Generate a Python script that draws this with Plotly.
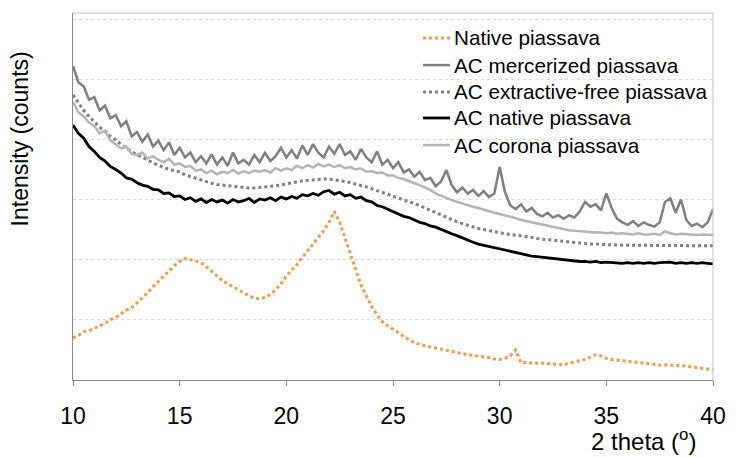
import numpy as np
import plotly.graph_objects as go

# 2-theta positions (degrees), step 0.25
two_theta = [round(10 + 0.25 * i, 2) for i in range(121)]

native = [
    0.70, 0.74, 0.80, 0.82, 0.86, 0.90, 0.94, 1.00, 1.04, 1.10, 1.16, 1.20,
    1.28, 1.36, 1.45, 1.55, 1.64, 1.73, 1.82, 1.90, 1.97, 2.02, 2.00, 1.98,
    1.95, 1.88, 1.81, 1.73, 1.65, 1.60, 1.54, 1.50, 1.45, 1.40, 1.36, 1.35,
    1.37, 1.42, 1.50, 1.60, 1.73, 1.82, 1.92, 2.04, 2.15, 2.25, 2.36, 2.48,
    2.62, 2.80, 2.62, 2.36, 2.10, 1.84, 1.58, 1.40, 1.22, 1.08, 0.97, 0.90,
    0.84, 0.78, 0.72, 0.67, 0.62, 0.59, 0.57, 0.55, 0.53, 0.51, 0.49, 0.47,
    0.45, 0.44, 0.42, 0.41, 0.40, 0.38, 0.37, 0.35, 0.34, 0.36, 0.40, 0.50,
    0.29, 0.29, 0.28, 0.28, 0.28, 0.27, 0.26, 0.26, 0.25, 0.28, 0.30, 0.32,
    0.34, 0.38, 0.42, 0.40, 0.36, 0.34, 0.33, 0.32, 0.31, 0.29, 0.28, 0.27,
    0.26, 0.25, 0.25, 0.25, 0.25, 0.24, 0.24, 0.23, 0.22, 0.21, 0.20, 0.19,
    0.17]

ac_mercerized = [
    5.22, 4.95, 4.88, 4.66, 4.70, 4.48, 4.56, 4.35, 4.40, 4.22, 4.30, 4.05,
    4.12, 3.96, 4.08, 3.88, 3.98, 3.82, 3.95, 3.74, 3.86, 3.70, 3.78, 3.62,
    3.72, 3.60, 3.75, 3.58, 3.70, 3.56, 3.78, 3.60, 3.66, 3.58, 3.74, 3.62,
    3.78, 3.64, 3.72, 3.86, 3.70, 3.82, 3.68, 3.90, 3.74, 3.92, 3.78, 3.70,
    3.88, 3.76, 3.92, 3.74, 3.80, 3.66, 3.84, 3.70, 3.62, 3.80, 3.58, 3.66,
    3.52, 3.62, 3.45, 3.50, 3.38, 3.46, 3.32, 3.36, 3.22, 3.30, 3.49, 3.24,
    3.12, 3.20, 3.10, 3.16, 3.06, 3.14, 3.04, 3.10, 3.54, 3.12, 2.90, 2.84,
    2.92, 2.80, 2.86, 2.76, 2.72, 2.78, 2.70, 2.74, 2.68, 2.74, 2.70, 2.80,
    2.96, 2.88, 2.92, 2.82, 3.10, 2.86, 2.68, 2.62, 2.58, 2.64, 2.56, 2.62,
    2.58, 2.55, 2.62, 2.96, 3.02, 2.78, 3.00, 2.66, 2.56, 2.60, 2.54, 2.62,
    2.84]

ac_extractive_free = [
    4.74, 4.60, 4.48, 4.38, 4.29, 4.20, 4.14, 4.05, 3.99, 3.92, 3.85, 3.80,
    3.74, 3.70, 3.65, 3.61, 3.57, 3.53, 3.50, 3.48, 3.46, 3.41, 3.38, 3.35,
    3.32, 3.29, 3.27, 3.25, 3.24, 3.22, 3.21, 3.20, 3.20, 3.19, 3.19, 3.20,
    3.20, 3.21, 3.23, 3.24, 3.26, 3.28, 3.29, 3.31, 3.32, 3.33, 3.34, 3.34,
    3.34, 3.33, 3.31, 3.30, 3.28, 3.26, 3.23, 3.21, 3.18, 3.15, 3.12, 3.09,
    3.06, 3.03, 3.00, 2.97, 2.94, 2.90, 2.86, 2.82, 2.78, 2.75, 2.70, 2.66,
    2.63, 2.60, 2.57, 2.55, 2.52, 2.50, 2.48, 2.46, 2.45, 2.43, 2.42, 2.41,
    2.40, 2.38, 2.37, 2.35, 2.34, 2.33, 2.32, 2.31, 2.30, 2.29, 2.28, 2.28,
    2.27, 2.26, 2.26, 2.25, 2.25, 2.25, 2.24, 2.24, 2.24, 2.24, 2.24, 2.24,
    2.24, 2.24, 2.23, 2.24, 2.24, 2.23, 2.24, 2.23, 2.23, 2.23, 2.23, 2.23,
    2.23]

ac_native = [
    4.24, 4.10, 4.02, 3.88, 3.80, 3.70, 3.64, 3.55, 3.50, 3.44, 3.36, 3.34,
    3.28, 3.24, 3.22, 3.17, 3.16, 3.10, 3.11, 3.05, 3.06, 3.00, 3.03, 2.97,
    3.01, 2.95, 3.00, 2.96, 2.99, 2.94, 3.00, 2.96, 2.98, 3.02, 2.95, 3.01,
    2.99, 3.03, 2.98, 3.04, 3.01, 3.05, 3.02, 3.08, 3.06, 3.10, 3.07, 3.13,
    3.15, 3.09, 3.12, 3.06, 3.08, 3.02, 3.04, 2.98, 2.96, 2.90, 2.88, 2.84,
    2.81, 2.77, 2.72, 2.70, 2.66, 2.62, 2.60, 2.56, 2.54, 2.50, 2.46, 2.43,
    2.40, 2.36, 2.32, 2.29, 2.26, 2.24, 2.21, 2.20, 2.18, 2.16, 2.13, 2.11,
    2.10, 2.08, 2.06, 2.05, 2.04, 2.02, 2.01, 2.00, 2.00, 1.98, 1.98, 1.97,
    1.97, 1.96, 1.97, 1.95, 1.96, 1.95, 1.95, 1.94, 1.95, 1.94, 1.95, 1.94,
    1.95, 1.94, 1.95, 1.95, 1.96, 1.94, 1.95, 1.94, 1.95, 1.94, 1.95, 1.94,
    1.93]

ac_corona = [
    4.62, 4.45, 4.38, 4.28, 4.22, 4.10, 4.14, 3.98, 3.92, 3.85, 3.88, 3.76,
    3.74, 3.78, 3.68, 3.72, 3.66, 3.62, 3.68, 3.58, 3.60, 3.54, 3.56, 3.48,
    3.50, 3.44, 3.48, 3.42, 3.46, 3.44, 3.49, 3.43, 3.47, 3.44, 3.48, 3.46,
    3.49, 3.45, 3.52, 3.48, 3.52, 3.49, 3.56, 3.52, 3.57, 3.53, 3.59, 3.55,
    3.58, 3.54, 3.57, 3.52, 3.54, 3.50, 3.52, 3.46, 3.47, 3.44, 3.45, 3.40,
    3.40, 3.36, 3.34, 3.30, 3.27, 3.24, 3.20, 3.16, 3.10, 3.06, 3.02, 2.99,
    2.96, 2.93, 2.90, 2.88, 2.86, 2.83, 2.81, 2.78, 2.76, 2.74, 2.71, 2.69,
    2.66, 2.64, 2.62, 2.60, 2.58, 2.56, 2.54, 2.52, 2.50, 2.49, 2.48, 2.47,
    2.46, 2.46, 2.45, 2.45, 2.44, 2.45, 2.43, 2.44, 2.43, 2.42, 2.44, 2.42,
    2.42, 2.43, 2.41, 2.47, 2.44, 2.42, 2.43, 2.42, 2.42, 2.41, 2.42, 2.41,
    2.41]

x_ticks = [10, 15, 20, 25, 30, 35, 40]

series_names = ["Native piassava", "AC mercerized piassava", "AC extractive-free piassava",
                "AC native piassava", "AC corona piassava"]
series_values = [native, ac_mercerized, ac_extractive_free, ac_native, ac_corona]
series_styles = [
    dict(color="#F79646", width=3, dash="dot"),
    dict(color="#7F7F7F", width=2.5, dash="solid"),
    dict(color="#7F7F7F", width=3, dash="dot"),
    dict(color="#000000", width=2.8, dash="solid"),
    dict(color="#B4B4B4", width=2.5, dash="solid"),
]

FONT = "Liberation Sans, Arial, sans-serif"

fig = go.Figure()
for name, vals, st in zip(series_names, series_values, series_styles):
    fig.add_trace(go.Scatter(x=two_theta, y=vals, mode="lines", name=name, line=st))

# Manual legend (positions in paper coords), matching the reference layout
leg_rows = [0.932, 0.858, 0.785, 0.714, 0.640]
leg_x0, leg_x1, leg_tx = 0.5470, 0.5890, 0.5917
annotations = []
shapes = []
for name, st, yy in zip(series_names, series_styles, leg_rows):
    shapes.append(dict(type="line", xref="paper", yref="paper", x0=leg_x0, x1=leg_x1,
                       y0=yy, y1=yy, line=dict(color=st["color"], width=st["width"], dash=st["dash"])))
    annotations.append(dict(text=name, xref="paper", yref="paper", x=leg_tx, y=yy,
                            xanchor="left", yanchor="middle", showarrow=False,
                            font=dict(size=20.7, family=FONT, color="#000000")))

annotations += [
    dict(text="Intensity (counts)", xref="paper", yref="paper",
         x=-0.083, y=0.414, xanchor="center", yanchor="bottom", textangle=-90,
         showarrow=False, font=dict(size=23, family=FONT)),
    dict(text="2 theta (<sup>o</sup>)", xref="paper", yref="paper",
         x=0.807, y=-0.163, xanchor="left", yanchor="middle",
         showarrow=False, font=dict(size=24, family=FONT)),
]
shapes += [
    dict(type="line", xref="paper", yref="paper", x0=0, x1=1, y0=1, y1=1,
         line=dict(color="#BFBFBF", width=1)),
    dict(type="line", xref="paper", yref="paper", x0=1, x1=1, y0=0, y1=1,
         line=dict(color="#BFBFBF", width=1)),
]

fig.update_layout(
    width=738, height=458,
    margin=dict(l=73, r=16, t=13, b=78),
    paper_bgcolor="white", plot_bgcolor="white",
    font=dict(family=FONT, color="#000000"),
    showlegend=False,
    xaxis=dict(range=[10, 40], tickvals=x_ticks, ticks="outside", ticklen=5,
               tickcolor="#898989", showline=True, linecolor="#898989", linewidth=1,
               showgrid=False, zeroline=False, tickfont=dict(size=23, family=FONT),
               ticklabelstandoff=10),
    yaxis=dict(range=[0, 6.1], tickvals=[1, 2, 3, 4, 5, 6], showticklabels=False,
               ticks="", showline=True, linecolor="#898989", linewidth=1,
               showgrid=True, gridcolor="#D9D9D9", griddash="dot", gridwidth=1,
               zeroline=False),
    annotations=annotations,
    shapes=shapes,
)

fig.write_html("out.html")
